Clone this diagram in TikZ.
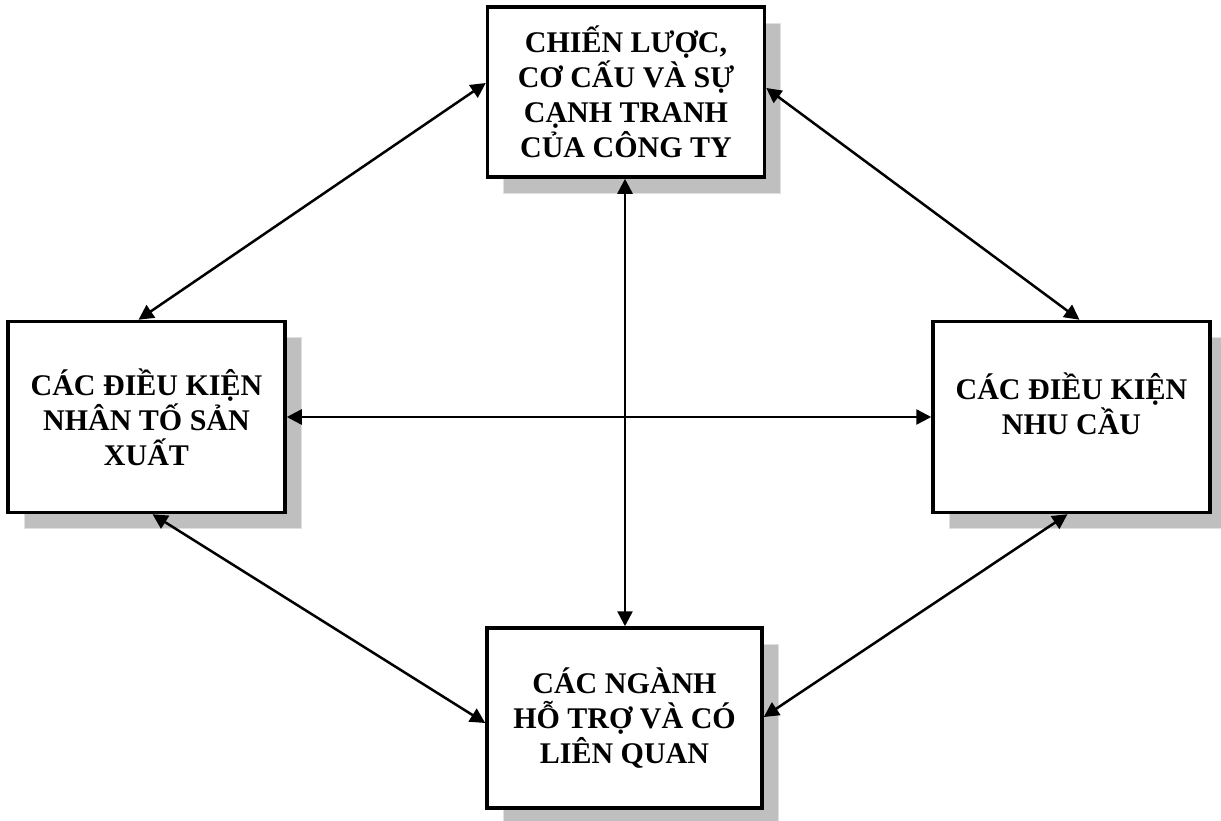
\documentclass[tikz,border=0pt]{standalone}
\usepackage{fontspec}
\setmainfont{Liberation Serif}
\usetikzlibrary{arrows.meta,shadows}
\begin{document}
\begin{tikzpicture}[x=1pt,y=-1pt,>={Triangle[length=15pt,width=15pt]},line width=2.5pt]
	\def \rowtop{92}
	\def \rowmid{417}
	\def \rowbot{718}
	\tikzstyle{f-box}=[draw,line width=3.5pt,fill=white,align=center,inner sep=0pt,
		font=\bfseries\fontsize{30}{35}\selectfont,minimum width=277pt,minimum height=191pt,
		drop shadow={shadow xshift=16pt,shadow yshift=-16pt,fill=black!25,draw=black!12,line width=1pt,opacity=1}]
	\tikzstyle{link}=[<->,line width=2.5pt]
	\useasboundingbox (0,0) rectangle (1221,820);

	% four factors
	\node[f-box,minimum height=170pt] (strategy) at (626,\rowtop) {CHIẾN LƯỢC,\\CƠ CẤU VÀ SỰ\\CẠNH TRANH\\CỦA CÔNG TY};
	\node[f-box] (factor) at (146.5,\rowmid) {CÁC ĐIỀU KIỆN\\NHÂN TỐ SẢN\\XUẤT};
	\node[f-box] (demand) at (1071.5,\rowmid) {CÁC ĐIỀU KIỆN\\NHU CẦU\\[-8pt]\mbox{}};
	\node[f-box,minimum height=180pt,minimum width=275pt] (related) at (624.5,\rowbot) {CÁC NGÀNH\\HỖ TRỢ VÀ CÓ\\LIÊN QUAN};

	\path
		([xshift=-8pt]factor.north)	edge[link]	([yshift=9pt]strategy.west)
		([yshift=4pt]strategy.east)	edge[link]	([xshift=8pt]demand.north)
		([xshift=6pt]factor.south)	edge[link]	([yshift=-5pt]related.west)
		([xshift=-4pt]demand.south)	edge[link]	([yshift=1pt]related.east)
		%
		(factor.east)	edge[link]	(demand.west)
		([xshift=-1pt]strategy.south)	edge[link]	([xshift=0.5pt]related.north);
\end{tikzpicture}
\end{document}
